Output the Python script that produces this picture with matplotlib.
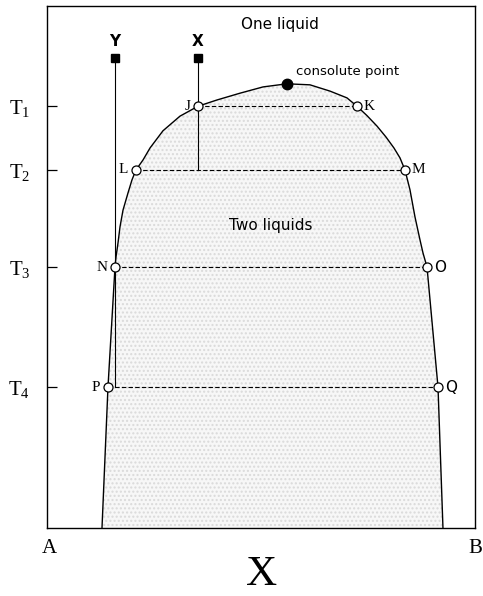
import numpy as np
import matplotlib
matplotlib.use("Agg")
import matplotlib.pyplot as plt

# miscibility gap boundary (x = mole fraction of B, T in arbitrary units)
curve_x = [0.1285, 0.1425, 0.1589, 0.1612, 0.1659, 0.1706, 0.1776, 0.1893,
           0.1986, 0.2079, 0.2243, 0.2407, 0.2710, 0.3107, 0.3528, 0.3972,
           0.4509, 0.5047, 0.5607, 0.6145, 0.6612, 0.7009, 0.7243, 0.7477,
           0.7710, 0.7921, 0.8107, 0.8248, 0.8364, 0.8481, 0.8598, 0.8715,
           0.8785, 0.8879, 0.9136, 0.9252]
curve_T = [0.0, 27.0, 50.0, 51.9, 54.6, 57.7, 60.9, 64.2,
           66.7, 68.6, 70.5, 72.8, 76.1, 78.9, 80.8, 82.0,
           83.3, 84.5, 85.1, 84.9, 83.7, 82.4, 80.8, 79.0,
           77.0, 74.9, 72.8, 70.9, 68.6, 64.8, 59.6, 55.2,
           52.7, 50.0, 27.0, 0.0]

# tie lines
tie_T = [80.8, 68.6, 50.0, 27.0]
tie_left = [0.3528, 0.2079, 0.1589, 0.1425]
tie_right = [0.7243, 0.8364, 0.8879, 0.9136]
left_names = ['J', 'L', 'N', 'P']
right_names = ['K', 'M', 'O', 'Q']
tick_names = ['$\\mathregular{T_1}$', '$\\mathregular{T_2}$',
              '$\\mathregular{T_3}$', '$\\mathregular{T_4}$']

consolute = (0.5607, 85.1)

# starting compositions
comp_names = ['Y', 'X']
comp_x = [0.1589, 0.3528]
comp_start = 90.0
comp_end = [27.0, 68.6]

serif = 'Liberation Serif'

fig = plt.figure(figsize=(4.83, 5.96), dpi=100)
ax = fig.add_axes([0.0973, 0.1141, 0.8861, 0.8758])
ax.set_xlim(0, 1)
ax.set_ylim(0, 100)

# shaded two-liquid region
ax.fill(curve_x, curve_T, facecolor='#f7f7f7', edgecolor='#dadada',
        hatch='....', linewidth=0, zorder=0)
ax.plot(curve_x, curve_T, color='black', lw=1.0, zorder=2,
        solid_joinstyle='round')

for T, xl, xr, nl, nr in zip(tie_T, tie_left, tie_right, left_names, right_names):
    ax.plot([xl, xr], [T, T], color='black', lw=0.8, ls=(0, (4, 2)), zorder=1)
    ax.plot([xl, xr], [T, T], 'o', ms=6.5, mfc='white', mec='black', mew=0.9, zorder=4)
    ax.text(xl - 0.018, T, nl, ha='right', va='center', fontsize=11, family=serif)
    rfam = serif if nr in ('K', 'M') else 'DejaVu Sans'
    ax.text(xr + 0.016, T, nr, ha='left', va='center', fontsize=11, family=rfam)

ax.plot(*consolute, 'o', ms=7.5, color='black', zorder=4)
ax.text(consolute[0] + 0.02, consolute[1] + 2.3, 'consolute point',
        ha='left', va='center', fontsize=9.5)

for name, x, yend in zip(comp_names, comp_x, comp_end):
    ax.plot([x, x], [comp_start, yend], color='black', lw=0.8, zorder=3)
    ax.plot(x, comp_start, 's', ms=6, color='black', zorder=4)
    ax.text(x, comp_start + 3.2, name, ha='center', va='center', fontsize=11,
            fontweight='bold')

ax.text(0.544, 96.4, 'One liquid', ha='center', va='center', fontsize=11)
ax.text(0.523, 58.0, 'Two liquids', ha='center', va='center', fontsize=11)

ax.set_yticks(tie_T)
ax.set_yticklabels(tick_names, family=serif, fontsize=15)
ax.tick_params(axis='y', direction='in', length=7, width=0.9, pad=12)
ax.set_xticks([])
for s in ax.spines.values():
    s.set_linewidth(1.0)

fig.text(0.1015, 0.079, 'A', ha='center', va='center', fontsize=15, family=serif)
fig.text(0.984, 0.079, 'B', ha='center', va='center', fontsize=15, family=serif)
fig.text(0.542, 0.036, 'X', ha='center', va='center', fontsize=31, family=serif)

fig.savefig('out.png', dpi=100)
